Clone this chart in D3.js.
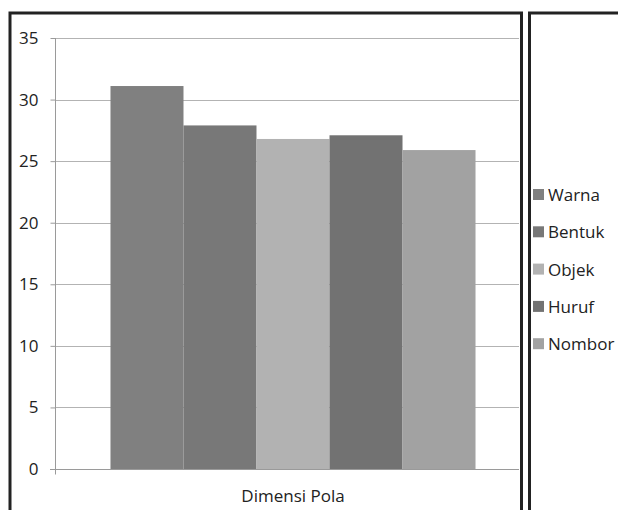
<!DOCTYPE html>
<html>
<head>
<meta charset="utf-8">
<script src="https://cdn.jsdelivr.net/npm/d3@7"></script>
<style>
html,body{margin:0;padding:0;background:#fff;overflow:hidden;}
svg text{font-family:"Open Sans",sans-serif;fill:#222;}
</style>
</head>
<body>
<svg id="chart" width="618" height="510"></svg>
<script>
const categories = ["Dimensi Pola"];
const seriesNames = ["Warna", "Bentuk", "Objek", "Huruf", "Nombor"];
const seriesValues = [31.1, 27.9, 26.8, 27.1, 25.9];
const seriesColors = ["#808080", "#787878", "#b2b2b2", "#727272", "#a2a2a2"];
const yTicks = [0, 5, 10, 15, 20, 25, 30, 35];

const svg = d3.select("#chart");
const FS = "17px";
const plot = {left: 55, right: 531, top: 38, bottom: 469};

svg.append("defs").append("clipPath").attr("id", "clipMain")
  .append("rect").attr("x", 0).attr("y", 0).attr("width", 519).attr("height", 510);

const g = svg.append("g").attr("clip-path", "url(#clipMain)");

const y = d3.scaleLinear().domain([0, 35]).range([plot.bottom, plot.top]);
const x0 = d3.scaleBand().domain(categories).range([plot.left, plot.right]).paddingInner(0).paddingOuter(0.152);
const x1 = d3.scaleBand().domain(seriesNames).range([0, x0.bandwidth()]).padding(0);

// gridlines
g.append("g").selectAll("line").data(yTicks.filter(d => d > 0)).join("line")
  .attr("x1", plot.left).attr("x2", plot.right)
  .attr("y1", d => Math.round(y(d)) + 0.5).attr("y2", d => Math.round(y(d)) + 0.5)
  .attr("stroke", "#b3b3b3").attr("stroke-width", 1);

// bars
const rows = seriesNames.map((s, i) => ({cat: categories[0], name: s, value: seriesValues[i], color: seriesColors[i]}));
g.append("g").selectAll("rect").data(rows).join("rect")
  .attr("x", d => x0(d.cat) + x1(d.name))
  .attr("y", d => y(d.value))
  .attr("width", x1.bandwidth())
  .attr("height", d => y(0) - y(d.value))
  .attr("fill", d => d.color);

// y axis
const yAxis = d3.axisLeft(y).tickValues(yTicks).tickSize(5).tickPadding(12).tickFormat(d3.format("d"));
const ya = g.append("g").attr("transform", `translate(${plot.left + 0.5},0)`).call(yAxis);
ya.attr("font-size", null).attr("font-family", null);
ya.select(".domain").attr("stroke", "#9a9a9a").attr("d", `M0,${plot.top}V${plot.bottom}`);
ya.selectAll(".tick line").attr("stroke", "#9a9a9a");
ya.selectAll(".tick text").style("font-size", FS).attr("fill", "#222");

// x axis
const xAxis = d3.axisBottom(x0).tickSize(0).tickPadding(20);
const xa = g.append("g").attr("transform", `translate(0,${Math.round(plot.bottom) + 0.5})`).call(xAxis);
xa.attr("font-size", null).attr("font-family", null);
xa.select(".domain").attr("stroke", "#9a9a9a").attr("d", `M${plot.left - 5},0H${plot.right}`);
xa.selectAll(".tick text").style("font-size", FS).attr("fill", "#222");
xa.append("g").selectAll("line").data([plot.left, plot.right]).join("line")
  .attr("x1", d => d + 0.5).attr("x2", d => d + 0.5).attr("y1", 0).attr("y2", 5)
  .attr("stroke", "#9a9a9a");

// frames
svg.append("rect").attr("x", 10).attr("y", 13).attr("width", 511.5).attr("height", 520)
  .attr("fill", "none").attr("stroke", "#222").attr("stroke-width", 3);
svg.append("rect").attr("x", 529.5).attr("y", 13).attr("width", 200).attr("height", 520)
  .attr("fill", "none").attr("stroke", "#222").attr("stroke-width", 3);

// legend
const leg = svg.append("g").attr("transform", "translate(533,195)");
const li = leg.selectAll("g").data(rows).join("g").attr("transform", (d, i) => `translate(0,${i * 37.3})`);
li.append("rect").attr("x", 0).attr("y", -6).attr("width", 11).attr("height", 11).attr("fill", d => d.color);
li.append("text").attr("x", 15).attr("y", 0).attr("dy", "0.35em").style("font-size", FS).text(d => d.name);
</script>
</body>
</html>
